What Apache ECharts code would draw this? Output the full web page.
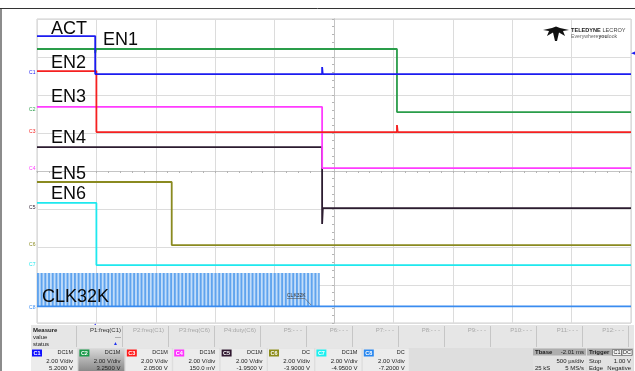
<!DOCTYPE html>
<html><head><meta charset="utf-8">
<script src="https://cdn.jsdelivr.net/npm/echarts@6/dist/echarts.min.js"></script>
<style>html,body{margin:0;padding:0;background:#fff}#c{width:635px;height:371px}</style>
</head><body><div id="c"></div>
<script>
// ---- scope settings ----
const voltsPerDiv = 2;        // V/div (all channels)
const timePerDiv = 0.5;       // ms/div (500 µs/div)
const tbaseDelay = 2.01;      // ms, time of screen centre relative to trigger
const triggerLevel = 1.0;     // V on C1
const clkPeriodMs = 0.03125;  // 32 kHz clock period

// ---- channels ----
const channelIds = ['C1','C2','C3','C4','C5','C6','C7','C8'];
const signalNames = ['ACT','EN1','EN2','EN3','EN4','EN5','EN6','CLK32K'];
const channelOffsets = [5.2, 3.25, 2.05, 0.15, -1.95, -3.9, -4.95, -7.2]; // V
const channelColors = ['#1c1cf0','#2a9d4a','#f52020','#ff3cff','#2c1c30','#8a8a20','#1ee8ee','#3a8cf0'];
const badgeColors = ['#1010ff','#1a9a4a','#ff1a1a','#ff33ff','#301830','#8c8c1a','#19f0f0','#2a88f0'];

// ---- waveforms: [time ms from trigger, volts] ----
const actWave = [[-0.49,1.9],[0,1.9],[0,-0.1],[1.91,-0.1],[1.91,0.27],[1.915,-0.1],[4.51,-0.1]];
const en1Wave = [[-0.49,3.17],[0,3.17],[0,2.95],[0.006,3.17],[2.54,3.17],[2.54,-0.15],[4.51,-0.15]];
const en2Wave = [[-0.49,3.21],[0.01,3.21],[0.01,0],[2.54,0],[2.54,0.37],[2.546,0],[4.51,0]];
const en3Wave = [[-0.49,3.22],[1.91,3.22],[1.91,0],[4.51,0]];
const en4Wave = [[-0.49,3.21],[1.91,3.21],[1.91,-0.84],[1.916,0],[4.51,0]];
const en5Wave = [[-0.49,3.32],[0.644,3.32],[0.644,0],[4.51,0]];
const en6Wave = [[-0.49,3.27],[0.01,3.27],[0.01,0],[4.51,0]];
const clkWave = [[-0.49,0.07],[4.51,0.07]];
const clkBurstTime = [-0.49, 1.89];     // ms
const clkBurstLevels = [0.07, 1.83];    // V low / high
const waves = [actWave,en1Wave,en2Wave,en3Wave,en4Wave,en5Wave,en6Wave,clkWave];

// ---- bottom panel texts ----
const measureHeads = ['P1:freq(C1)','P2:freq(C1)','P3:freq(C6)','P4:duty(C6)','P5:- - -','P6:- - -','P7:- - -','P8:- - -','P9:- - -','P10:- - -','P11:- - -','P12:- - -'];
const couplings = ['DC1M','DC1M','DC1M','DC1M','DC1M','DC','DC1M','DC'];
const scaleLabels = ['2.00 V/div','2.00 V/div','2.00 V/div','2.00 V/div','2.00 V/div','2.00 V/div','2.00 V/div','2.00 V/div'];
const offsetLabels = ['5.2000 V','3.2500 V','2.0500 V','150.0 mV','-1.9500 V','-3.9000 V','-4.9500 V','-7.2000 V'];
const tbaseTexts = ['Tbase','-2.01 ms','500 µs/div','25 kS','5 MS/s'];
const triggerTexts = ['Trigger','C1','DC','Stop','1.00 V','Edge','Negative'];

// ---- layout ----
const grid = {left:37, top:19, width:594, height:304};
const FONT = '"Liberation Sans", Arial, sans-serif';

function clockPattern() {
  const pxPerMs = grid.width / (10 * timePerDiv);
  const n = 10;
  const c = document.createElement('canvas');
  c.width = Math.round(clkPeriodMs * pxPerMs * n); c.height = 4;
  const g = c.getContext('2d');
  g.fillStyle = '#c2ddf9'; g.fillRect(0, 0, c.width, c.height);
  g.fillStyle = '#5fa3ee';
  for (let k = 0; k < n; k++) g.fillRect(k * c.width / n, 0, c.width / n * 0.5, c.height);
  return c;
}

const toX = t => t - tbaseDelay;
const xHalf = 5 * timePerDiv, yHalf = 4 * voltsPerDiv;

const series = waves.map((w, i) => {
  const s = {
    type:'line', name: signalNames[i], xAxisIndex:0, yAxisIndex:0,
    showSymbol:false, symbol:'none', silent:true, clip:true,
    data: w.map(p => [toX(p[0]), channelOffsets[i] + p[1]]),
    lineStyle:{color:channelColors[i], width:1.8},
    itemStyle:{color:channelColors[i]},
    z: 10 - i,
    markPoint:{
      silent:true, animation:false,
      data:[{coord:[-xHalf, channelOffsets[i]], symbol:'rect', symbolSize:1,
             itemStyle:{color:'rgba(0,0,0,0)'},
             label:{show:true, position:'left', distance:1, formatter:channelIds[i],
                    fontSize:5, color:channelColors[i], fontFamily:FONT}}]
    }
  };
  if (i === 0) {
    s.markPoint.data.push(
      {coord:[xHalf, channelOffsets[0] + triggerLevel], symbol:'triangle', symbolSize:[5,6], symbolRotate:90,
       symbolOffset:[3,0], itemStyle:{color:'#1c1cf0'}, label:{show:false}},
      {coord:[toX(0), -yHalf], symbol:'triangle', symbolSize:[6,5], symbolOffset:[0,3],
       itemStyle:{color:'#1c1cf0'}, label:{show:false}}
    );
  }
  if (i === 7) {
    s.markArea = {
      silent:true,
      itemStyle:{color:{image:clockPattern(), repeat:'repeat'}},
      data:[[{xAxis:toX(clkBurstTime[0]), yAxis:channelOffsets[7]+clkBurstLevels[0]},
             {xAxis:toX(clkBurstTime[1]), yAxis:channelOffsets[7]+clkBurstLevels[1]}]]
    };
  }
  return s;
});

function axisBase(isX, inside, main) {
  return {
    type:'value', min: isX ? -xHalf : -yHalf, max: isX ? xHalf : yHalf,
    interval: isX ? timePerDiv : voltsPerDiv,
    axisLabel:{show:false},
    splitLine:{show:main, lineStyle:{color:'#dcdcdc', width:1}},
    axisLine:{show:true, onZero:true, lineStyle:{color:'#c4c4c4'}},
    axisTick:{show:true, inside:inside, length:2, lineStyle:{color:'#b4b4b4'}},
    minorTick:{show:true, splitNumber:5, length:2, lineStyle:{color:'#b4b4b4'}}
  };
}

// ---- graphics ----
const G = [];
const txt = (x, y, text, o) => G.push(Object.assign({type:'text', x:x, y:y, z:100, silent:true,
  style:Object.assign({text:text, fill:'#222', fontSize:6, fontFamily:FONT, align:'left', verticalAlign:'middle'}, o || {})}));
const rect = (x, y, w, h, fill, o) => G.push(Object.assign({type:'rect', z:90, silent:true, shape:{x:x,y:y,width:w,height:h},
  style:Object.assign({fill:fill}, o || {})}));
const line = (x1, y1, x2, y2, stroke, w) => G.push({type:'line', z:95, silent:true, shape:{x1:x1,y1:y1,x2:x2,y2:y2},
  style:{stroke:stroke, lineWidth:w || 1}});

// frame
line(0, 8.5, 635, 8.5, '#333', 1);
line(1, 9, 1, 371, '#666', 1.5);

// big signal labels
const bigLabelPos = [[51,29],[103,40.5],[51,63.5],[51,97.5],[51,138],[51,174],[51,194.5],[42,297.5]];
signalNames.forEach((n, i) => txt(bigLabelPos[i][0], bigLabelPos[i][1], n, {fontSize:18, fill:'#0a0a0a'}));

// small CLK32K annotation
txt(287, 295.5, 'CLK32K', {fontSize:5, fill:'#333'});
line(287, 298.5, 305, 298.5, '#555', 0.6);
line(305, 298.5, 311, 305, '#555', 0.6);

// logo
G.push({type:'polygon', z:100, silent:true, shape:{points:[[543,30],[552,28],[556,26.5],[560,28],[569,30],[563,31],[565,36],[559,32.5],[557,41],[555,41],[553,32.5],[547,36],[549,31]]}, style:{fill:'#111'}});
txt(571, 30.5, '', {text:'{b|TELEDYNE} {r|LECROY}',
  rich:{b:{fontSize:5.6, fontWeight:'bold', fill:'#222', fontFamily:FONT}, r:{fontSize:5.6, fill:'#444', fontFamily:FONT}}});
txt(571, 37, '', {text:'{g|Everywhere}{y|you}{g|look}',
  rich:{g:{fontSize:5.2, fill:'#666', fontFamily:FONT}, y:{fontSize:5.2, fontWeight:'bold', fill:'#444', fontFamily:FONT}}});

// bottom panel
rect(31, 325, 603, 46, '#dedede');
rect(31, 325, 603, 23, '#e6e6e6');
txt(33, 330, 'Measure', {fontWeight:'bold'});
txt(33, 337, 'value');
txt(33, 344, 'status');
for (let k = 0; k < 12; k++) {
  const right = 122 + 46 * k;
  line(right + 0.5, 326, right + 0.5, 347, '#c6c6c6', 1);
  txt(k === 0 ? right - 1 : right - 4, 330, measureHeads[k], {align:'right', fill: k === 0 ? '#333' : '#a8a8a8'});
}
line(76.5, 326, 76.5, 347, '#c6c6c6', 1);
txt(121, 337, '---', {align:'right', fill:'#555'});
txt(118, 344, '▲', {align:'right', fill:'#2233ee', fontSize:5});
for (let i = 0; i < 8; i++) {
  const L = 31 + 47.4 * i;
  if (i === 1) {
    rect(L, 348.5, 46, 22.5, {type:'linear', x:0, y:0, x2:0, y2:1,
      colorStops:[{offset:0, color:'#d8d8d8'}, {offset:1, color:'#8a8a8a'}]});
  } else {
    rect(L, 348.5, 46, 22.5, '#ececec');
  }
  rect(L + 1, 349.5, 10, 7, badgeColors[i]);
  txt(L + 6, 353.2, channelIds[i], {align:'center', fill:'#fff', fontWeight:'bold', fontSize:5.5});
  txt(L + 42, 352.5, couplings[i], {align:'right', fontSize:5.5});
  txt(L + 42, 361, scaleLabels[i], {align:'right'});
  txt(L + 42, 368, offsetLabels[i], {align:'right'});
}
// Tbase
rect(533, 348.5, 53, 22.5, '#e2e2e2');
rect(533, 348.5, 53, 7, '#aeaeae');
txt(535, 352.2, tbaseTexts[0], {fontWeight:'bold'});
txt(584, 352.2, tbaseTexts[1], {align:'right'});
txt(584, 361, tbaseTexts[2], {align:'right'});
txt(535, 368, tbaseTexts[3]);
txt(584, 368, tbaseTexts[4], {align:'right'});
// Trigger
rect(587, 348.5, 46, 22.5, '#e2e2e2');
rect(587, 348.5, 46, 7, '#aeaeae');
txt(589, 352.2, triggerTexts[0], {fontWeight:'bold'});
rect(612.5, 349.5, 9, 6, '#f4f4f4', {stroke:'#555', lineWidth:0.6});
rect(622, 349.5, 10, 6, '#f4f4f4', {stroke:'#555', lineWidth:0.6});
txt(617, 352.7, triggerTexts[1], {align:'center', fontSize:5.5});
txt(627, 352.7, triggerTexts[2], {align:'center', fontSize:5.5});
txt(589, 361, triggerTexts[3]);
txt(631, 361, triggerTexts[4], {align:'right'});
txt(589, 368, triggerTexts[5]);
txt(631, 368, triggerTexts[6], {align:'right'});

const chart = echarts.init(document.getElementById('c'), null, {renderer:'canvas'});
chart.setOption({
  animation:false,
  backgroundColor:'#ffffff',
  grid:Object.assign({show:true, backgroundColor:'#ffffff', borderColor:'#cfcfcf', borderWidth:1}, grid),
  xAxis:[axisBase(true, false, true), axisBase(true, true, false)],
  yAxis:[axisBase(false, false, true), axisBase(false, true, false)],
  series:series,
  graphic:{elements:G}
});
</script></body></html>
